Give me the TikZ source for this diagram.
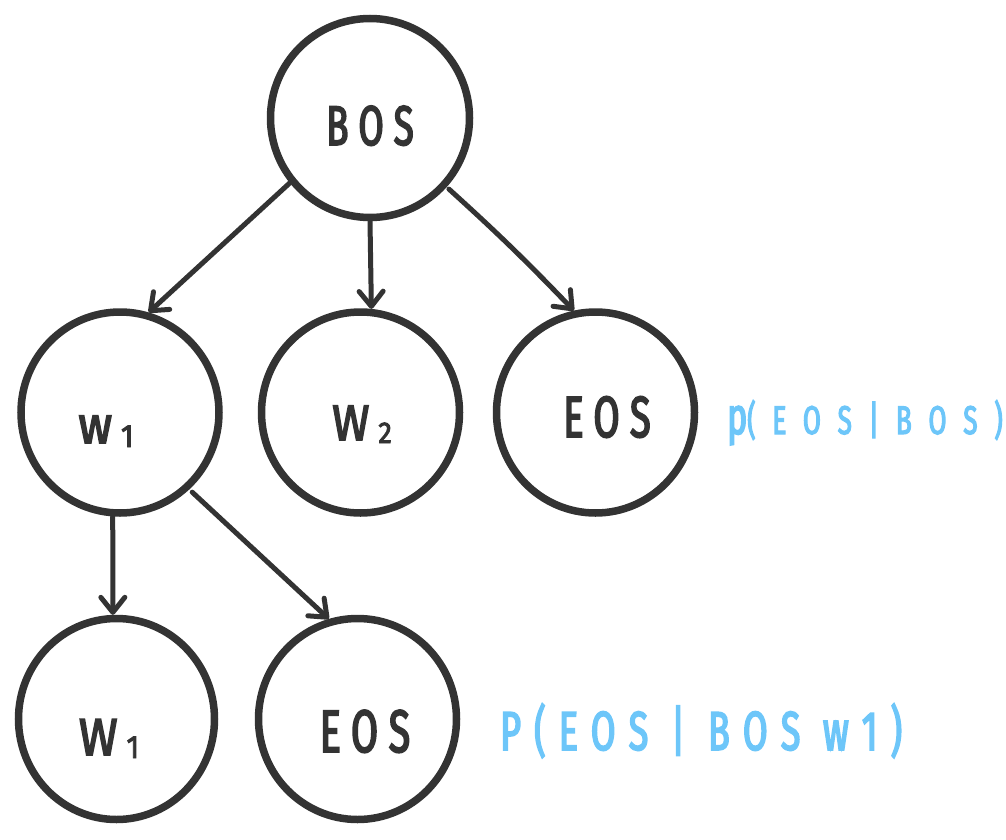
\documentclass[tikz,border=0pt]{standalone}
\usepackage{fontspec}
\setmainfont{Fira Sans}
\newfontfamily\hand[FakeStretch=0.65,LetterSpace=18,FakeBold=3]{Fira Sans}
\newfontfamily\handw[FakeStretch=0.9,LetterSpace=12,FakeBold=3]{Fira Sans}
\newfontfamily\handlab[FakeStretch=0.65,LetterSpace=24,FakeBold=3]{Fira Sans}
\newfontfamily\handwide[FakeStretch=0.65,LetterSpace=42,FakeBold=3]{Fira Sans}
\usetikzlibrary{arrows.meta,shapes.geometric}
\definecolor{ink}{HTML}{333333}
\definecolor{sky}{HTML}{6DC6F9}
\begin{document}
\begin{tikzpicture}[x=1pt,y=-1pt,
  state/.style={ellipse,draw=ink,line width=7.5pt,inner sep=0pt,
    minimum width=198pt,minimum height=201pt},
  txt/.style={text=ink,inner sep=0pt,anchor=base},
  lbl/.style={text=sky,inner sep=0pt,anchor=base west},
  conn/.style={draw=ink,line width=5pt,line cap=round,line join=round,
    -{Straight Barb[length=15pt,width=24pt,line width=5pt,round]}}]
\useasboundingbox (0,0) rectangle (1006,840);
\node[state,minimum width=199pt,minimum height=199pt] (bos) at (370,118) {};
\node[state] (w1) at (120,412.5) {};
\node[state] (w2) at (360.5,412.5) {};
\node[state] (eos) at (595.5,412.5) {};
\node[state,minimum width=196pt] (w1b) at (116.5,719) {};
\node[state] (eosb) at (357.5,719) {};
% texts
\node[txt,font=\hand\fontsize{56}{56}\selectfont] (tbos) at (370,145) {BOS};
\node[txt,font=\handw\fontsize{52}{52}\selectfont] (tw1) at (106,443) {w\hspace{9pt}{\fontsize{32}{32}\selectfont\raisebox{-4pt}{1}}};
\node[txt,font=\handw\fontsize{50}{50}\selectfont] (tw2) at (362,440) {W\hspace{9pt}{\fontsize{30}{30}\selectfont\raisebox{-3pt}{2}}};
\node[txt,font=\hand\fontsize{58}{58}\selectfont] (teos) at (607,437) {EOS};
\node[txt,font=\handw\fontsize{52}{52}\selectfont] (tw1b) at (109,755) {W\hspace{9pt}{\fontsize{32}{32}\selectfont\raisebox{-3pt}{1}}};
\node[txt,font=\hand\fontsize{60}{60}\selectfont] (teosb) at (365,752) {EOS};
% labels
\node[lbl,font=\handwide\fontsize{40}{40}\selectfont] (l1) at (727,434) {{\fontsize{52}{52}\selectfont p}(EOS|BOS)};
\node[lbl,font=\handlab\fontsize{55}{55}\selectfont] (l2) at (500,750) {P(EOS | BOS w1)};
% connectors
\draw[conn] (bos.219) -- (w1.74);
\draw[conn] (bos.270) -- (w2.84);
\draw[conn,shorten <=3pt] (bos.318) to[bend left=2] (eos.102);
\draw[conn] (w1.266) -- (w1b.92);
\draw[conn,shorten <=4pt] (w1.312) -- (eosb.106);
\end{tikzpicture}
\end{document}
